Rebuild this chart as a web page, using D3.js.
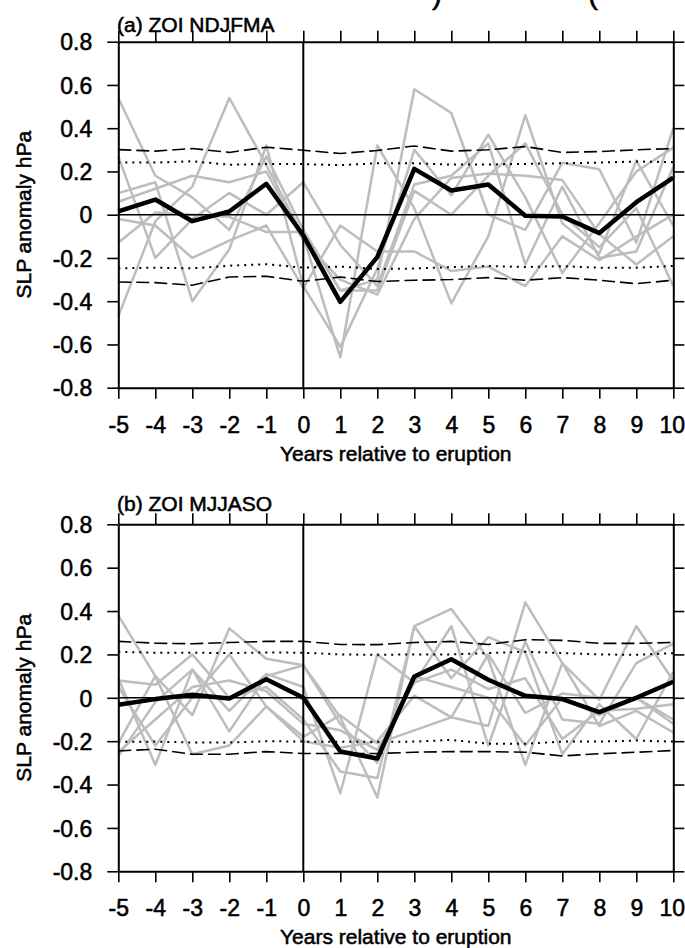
<!DOCTYPE html>
<html>
<head>
<meta charset="utf-8">
<script src="https://cdn.jsdelivr.net/npm/d3@7"></script>
<style>
  body { margin: 0; background: #fff; }
  svg text { font-family: "Liberation Sans", Arial, Helvetica, sans-serif; fill: #000; stroke: #000; stroke-width: 0.55px; }
</style>
</head>
<body>
<svg id="chart" width="685" height="948"></svg>
<script>
// x categories and tick labels
const years = [-5, -4, -3, -2, -1, 0, 1, 2, 3, 4, 5, 6, 7, 8, 9, 10];
const xTickLabels = ["-5", "-4", "-3", "-2", "-1", "0", "1", "2", "3", "4", "5", "6", "7", "8", "9", "10"];
const yTicks = [-0.8, -0.6, -0.4, -0.2, 0, 0.2, 0.4, 0.6, 0.8];
const yTickLabels = ["-0.8", "-0.6", "-0.4", "-0.2", "0", "0.2", "0.4", "0.6", "0.8"];

// (a) ZOI NDJFMA
const meanA = [0.015, 0.07, -0.03, 0.015, 0.143, -0.096, -0.403, -0.196, 0.212, 0.112, 0.14, -0.005, -0.008, -0.085, 0.058, 0.171];
const hi95A = [0.301, 0.294, 0.306, 0.288, 0.312, 0.298, 0.283, 0.297, 0.318, 0.294, 0.300, 0.315, 0.288, 0.292, 0.300, 0.306];
const hi90A = [0.241, 0.241, 0.247, 0.231, 0.234, 0.234, 0.229, 0.238, 0.238, 0.232, 0.232, 0.235, 0.238, 0.241, 0.246, 0.243];
const lo90A = [-0.248, -0.245, -0.248, -0.236, -0.229, -0.245, -0.240, -0.251, -0.249, -0.242, -0.237, -0.242, -0.238, -0.245, -0.245, -0.237];
const lo95A = [-0.311, -0.314, -0.326, -0.288, -0.285, -0.308, -0.288, -0.309, -0.303, -0.300, -0.291, -0.303, -0.291, -0.303, -0.319, -0.303];
const membersA = [
  [0.54, 0.18, 0.08, -0.07, 0.27, -0.07, -0.35, -0.30, 0.58, 0.47, 0.00, -0.07, 0.24, 0.21, -0.13, 0.40],
  [-0.47, -0.03, 0.13, 0.54, 0.23, -0.10, -0.66, 0.32, 0.03, -0.41, -0.10, 0.46, -0.04, -0.18, 0.25, -0.05],
  [0.10, 0.15, -0.40, -0.16, 0.32, -0.33, -0.61, -0.25, 0.30, 0.09, 0.37, 0.08, -0.27, -0.04, 0.20, 0.31],
  [0.27, -0.20, -0.02, 0.10, 0.00, 0.15, -0.14, -0.33, 0.14, 0.18, 0.33, -0.23, 0.13, -0.20, -0.17, 0.22],
  [0.06, 0.12, 0.18, 0.15, 0.20, -0.12, -0.30, -0.37, -0.02, 0.17, 0.19, 0.18, 0.16, -0.09, -0.23, -0.10],
  [-0.13, 0.01, 0.00, -0.01, -0.08, -0.08, -0.35, -0.35, 0.11, 0.00, 0.18, 0.33, 0.00, -0.15, 0.03, -0.33],
  [-0.02, -0.05, -0.20, -0.12, -0.05, -0.34, -0.05, -0.17, -0.17, -0.26, -0.24, -0.33, -0.10, -0.21, -0.10, 0.00]
];

// (b) ZOI MJJASO
const meanB = [-0.032, -0.006, 0.014, -0.003, 0.086, 0.0, -0.248, -0.28, 0.098, 0.178, 0.083, 0.009, -0.006, -0.066, 0.0, 0.074];
const hi95B = [0.260, 0.252, 0.249, 0.255, 0.260, 0.260, 0.246, 0.245, 0.255, 0.260, 0.246, 0.268, 0.265, 0.251, 0.251, 0.255];
const hi90B = [0.212, 0.208, 0.208, 0.206, 0.209, 0.208, 0.200, 0.198, 0.200, 0.200, 0.206, 0.212, 0.206, 0.200, 0.198, 0.206];
const lo90B = [-0.203, -0.202, -0.206, -0.206, -0.200, -0.202, -0.203, -0.203, -0.202, -0.194, -0.212, -0.212, -0.202, -0.202, -0.197, -0.202];
const lo95B = [-0.245, -0.237, -0.260, -0.260, -0.248, -0.257, -0.257, -0.257, -0.251, -0.248, -0.248, -0.251, -0.268, -0.258, -0.251, -0.243];
const membersB = [
  [0.38, 0.10, -0.08, 0.32, 0.18, 0.15, -0.09, -0.46, 0.33, 0.41, 0.18, -0.31, 0.16, -0.01, 0.33, 0.08],
  [0.09, -0.31, 0.13, -0.06, 0.11, 0.05, -0.44, 0.20, 0.07, 0.33, -0.22, 0.26, -0.10, -0.12, 0.16, 0.25],
  [0.08, 0.06, 0.20, 0.00, 0.05, -0.10, -0.34, -0.37, 0.33, 0.09, 0.28, 0.21, -0.26, -0.03, -0.19, 0.12],
  [-0.21, 0.10, -0.26, -0.22, -0.04, -0.18, -0.08, -0.21, -0.15, -0.09, -0.13, 0.44, 0.16, -0.13, -0.06, -0.16],
  [-0.27, -0.02, 0.13, -0.155, 0.10, 0.15, -0.12, -0.30, 0.10, 0.05, 0.00, -0.22, 0.00, -0.08, 0.00, -0.10],
  [-0.25, -0.10, 0.05, 0.08, 0.03, -0.12, -0.15, -0.24, 0.07, 0.13, 0.04, 0.09, -0.19, -0.06, -0.05, -0.03],
  [0.05, -0.22, 0.00, 0.20, -0.04, -0.20, -0.23, -0.20, 0.01, -0.09, 0.20, -0.07, 0.02, 0.00, 0.00, -0.12]
];

const panels = [
  { title: "(a) ZOI NDJFMA", top: 41.7, bottom: 387.7, titleY: 31.5,
    mean: meanA, hi95: hi95A, hi90: hi90A, lo90: lo90A, lo95: lo95A, members: membersA },
  { title: "(b) ZOI MJJASO", top: 524.3, bottom: 871.3, titleY: 511,
    mean: meanB, hi95: hi95B, hi90: hi90B, lo90: lo90B, lo95: lo95B, members: membersB }
];

const svg = d3.select("#chart");
const left = 118.3, right = 673.3, tick = 11;

// cropped header from the source figure
svg.append("text").attr("x", 432).attr("y", 4).attr("font-size", 30).text(")");
svg.append("text").attr("x", 588).attr("y", 4).attr("font-size", 30).text("(");

const x = d3.scaleLinear().domain([-5, 10]).range([left, right]);

panels.forEach(p => {
  const y = d3.scaleLinear().domain([-0.8, 0.8]).range([p.bottom, p.top]);
  const g = svg.append("g");
  const line = d3.line().x((d, i) => x(years[i])).y(d => y(d));

  // individual eruptions
  g.selectAll(".member")
    .data(p.members)
    .enter().append("path")
    .attr("d", line)
    .attr("fill", "none")
    .attr("stroke", "#bdbdbd")
    .attr("stroke-width", 2.5)
    .attr("stroke-linejoin", "round");

  // zero lines
  g.append("line").attr("x1", left).attr("x2", right)
    .attr("y1", y(0)).attr("y2", y(0))
    .attr("stroke", "#000").attr("stroke-width", 1.6);
  g.append("line").attr("x1", x(0)).attr("x2", x(0))
    .attr("y1", p.top).attr("y2", p.bottom)
    .attr("stroke", "#000").attr("stroke-width", 2);

  // significance bounds
  [p.hi95, p.lo95].forEach(s => {
    g.append("path").datum(s).attr("d", line)
      .attr("fill", "none").attr("stroke", "#000")
      .attr("stroke-width", 1.6).attr("stroke-dasharray", "13,5");
  });
  [p.hi90, p.lo90].forEach(s => {
    g.append("path").datum(s).attr("d", line)
      .attr("fill", "none").attr("stroke", "#000")
      .attr("stroke-width", 2).attr("stroke-dasharray", "2,5");
  });

  // composite mean
  g.append("path").datum(p.mean).attr("d", line)
    .attr("fill", "none").attr("stroke", "#000")
    .attr("stroke-width", 4.5).attr("stroke-linejoin", "round");

  // axes, ticks outward on all sides
  const axB = d3.axisBottom(x).tickValues(years).tickSize(tick).tickSizeOuter(0).tickFormat((d, i) => xTickLabels[i]);
  const axT = d3.axisTop(x).tickValues(years).tickSize(tick).tickSizeOuter(0).tickFormat("");
  const axL = d3.axisLeft(y).tickValues(yTicks).tickSize(tick).tickSizeOuter(0).tickFormat((d, i) => yTickLabels[i]);
  const axR = d3.axisRight(y).tickValues(yTicks).tickSize(tick).tickSizeOuter(0).tickFormat("");

  const gb = g.append("g").attr("transform", `translate(0,${p.bottom})`).call(axB);
  const gt = g.append("g").attr("transform", `translate(0,${p.top})`).call(axT);
  const gl = g.append("g").attr("transform", `translate(${left},0)`).call(axL);
  const gr = g.append("g").attr("transform", `translate(${right},0)`).call(axR);

  [gb, gt, gl, gr].forEach(a => {
    a.selectAll("path.domain").attr("stroke", "#000").attr("stroke-width", 2);
    a.selectAll(".tick line").attr("stroke", "#000").attr("stroke-width", 1.6);
  });
  gb.selectAll(".tick text")
    .attr("y", 45).attr("dy", null)
    .attr("font-size", 23).attr("font-family", null)
    .attr("dx", (d, i) => i === years.length - 1 ? -1.5 : 0);
  gl.selectAll(".tick text")
    .attr("x", -26).attr("dy", "0.36em")
    .attr("font-size", 23).attr("font-family", null);

  // titles
  g.append("text").attr("x", 117).attr("y", p.titleY)
    .attr("font-size", 21).text(p.title);
  g.append("text").attr("x", (left + right) / 2).attr("y", p.bottom + 73)
    .attr("text-anchor", "middle").attr("font-size", 21)
    .text("Years relative to eruption");
  g.append("text")
    .attr("transform", `translate(31,${y(0)}) rotate(-90)`)
    .attr("text-anchor", "middle").attr("font-size", 21)
    .text("SLP anomaly hPa");
});
</script>
</body>
</html>
